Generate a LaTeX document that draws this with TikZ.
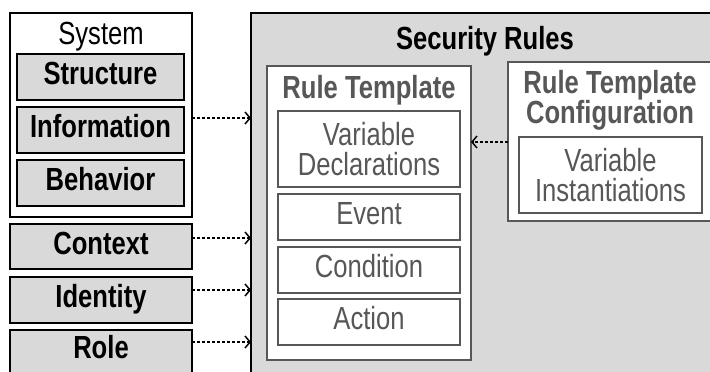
\documentclass[tikz,border=0pt]{standalone}
\usepackage{fontspec}
\setmainfont{Liberation Sans}[FakeStretch=0.8]
\usetikzlibrary{arrows.meta}
\definecolor{panel}{HTML}{D9D9D9}
\definecolor{ink}{HTML}{575757}

\begin{document}
\begin{tikzpicture}[x=1pt, y=-1pt,
  every node/.style={font=\fontsize{32pt}{30pt}\selectfont, inner sep=0pt},
  frame/.style={rectangle, anchor=north west, outer sep=0pt, line width=1.8pt},
  oneline/.style={text height=22.9pt, text depth=7pt},
  tag/.style={frame, oneline, draw=black, fill=panel,
    font=\fontsize{32pt}{30pt}\selectfont\bfseries},
  part/.style={frame, draw=ink, fill=white, text=ink, align=center},
  heading/.style={font=\fontsize{32pt}{30pt}\selectfont\bfseries},
  flow/.style={line width=1.3pt, dash pattern=on 3pt off 2pt,
    -{Straight Barb[length=5pt,width=12pt,line width=1.5pt]}}
]
\useasboundingbox (0,0) rectangle (710,372);
\clip (0,0) rectangle (710,372);

% security rules panel
\node[frame, draw=black, fill=panel, minimum width=469pt, minimum height=377pt] (sec) at (251,13) {};
\node[heading, anchor=base] (secT) at (485,49) {Security Rules};

% system and its aspects
\node[frame, draw=black, fill=white, minimum width=182pt, minimum height=204pt] (sys) at (10,13) {};
\node[anchor=base] (sysT) at (101,44) {System};
\node[tag, minimum width=167pt, minimum height=46pt] (str)  at (17,54)  {Structure};
\node[tag, minimum width=167pt, minimum height=46pt] (info) at (17,107) {Information};
\node[tag, minimum width=167pt, minimum height=46pt] (beh)  at (17,160) {Behavior};

% further inputs
\node[tag, minimum width=182pt, minimum height=45pt] (ctx)  at (10,224) {Context};
\node[tag, minimum width=182pt, minimum height=46pt] (idn)  at (10,277) {Identity};
\node[tag, minimum width=182pt, minimum height=60pt, text depth=26pt] (role) at (10,330) {Role};

% rule template
\node[frame, draw=ink, fill=white, minimum width=204pt, minimum height=294pt] (tpl) at (267,66) {};
\node[heading, anchor=base, text=ink] (tplT) at (369,98.5) {Rule Template};
\node[part, minimum width=182pt, minimum height=76pt] (vd) at (278,111) {Variable\\Declarations};
\node[part, oneline, minimum width=182pt, minimum height=46pt] (ev)   at (278,194) {Event};
\node[part, oneline, minimum width=182pt, minimum height=46pt] (cond) at (278,247) {Condition};
\node[part, oneline, minimum width=182pt, minimum height=46pt] (act)  at (278,299) {Action};

% rule template configuration
\node[frame, draw=ink, fill=white, minimum width=204pt, minimum height=159pt] (cfg) at (508,62) {};
\node[heading, anchor=north, align=center, text=ink] (cfgT) at (610,70.5) {Rule Template\\Configuration};
\node[part, minimum width=183pt, minimum height=76pt] (vi) at (519,137) {Variable\\Instantiations};

% connectors
\draw[flow] (sys.east  |- 0,118) -- (sec.west |- 0,118);
\draw[flow] (ctx.east  |- 0,238) -- (sec.west |- 0,238);
\draw[flow] (idn.east  |- 0,290) -- (sec.west |- 0,290);
\draw[flow] (role.east |- 0,342) -- (sec.west |- 0,342);
\draw[flow] (cfg.west  |- 0,142) -- (tpl.east |- 0,142);
\end{tikzpicture}
\end{document}
